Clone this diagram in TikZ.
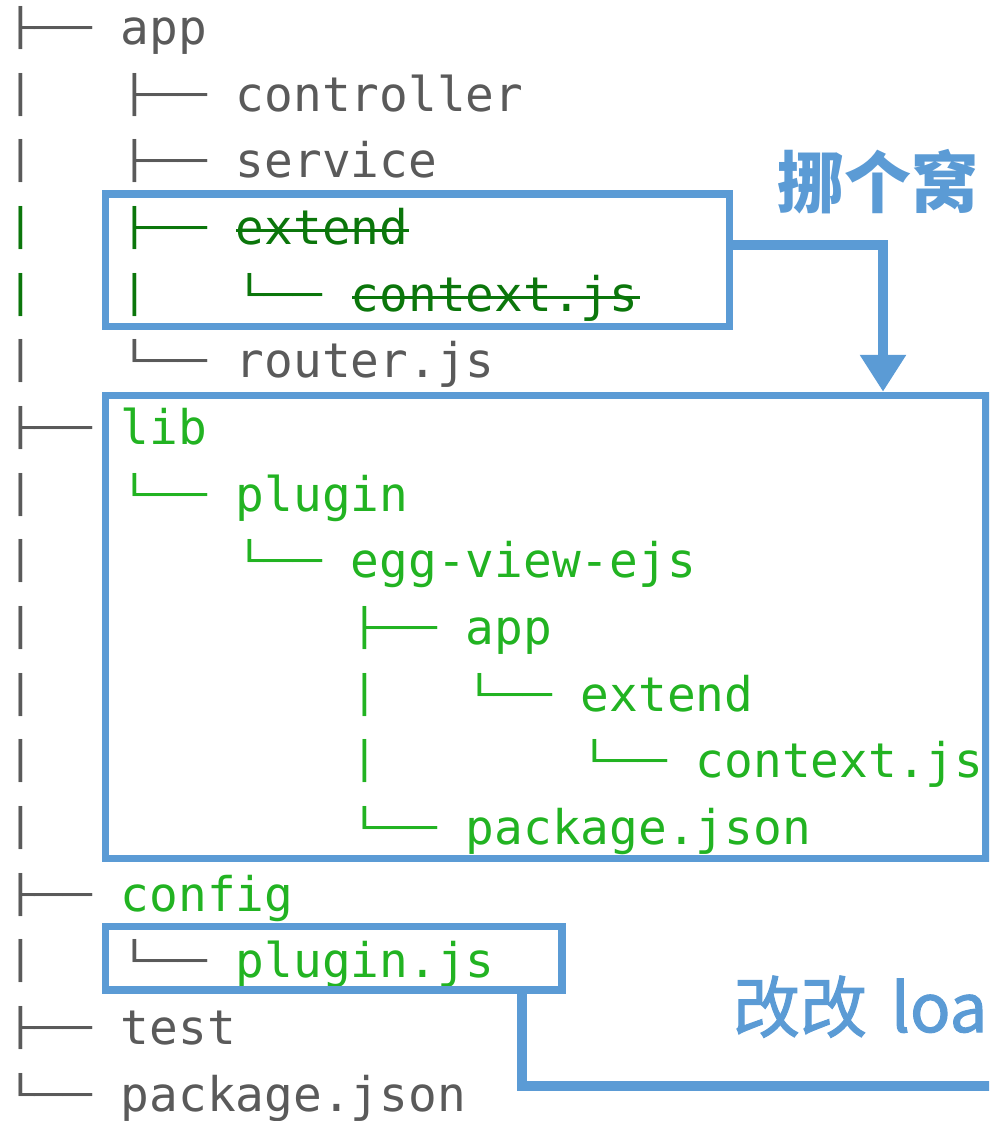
\documentclass[tikz,border=0pt]{standalone}
\usepackage{graphicx}
\usepackage{fontspec}
\setmonofont{DejaVu Sans Mono}
\newfontfamily\cjk{Noto Sans CJK SC}
\newfontfamily\cjkfb[FakeBold=1.6]{Noto Sans CJK SC}
\usetikzlibrary{arrows.meta}
\definecolor{treegrey}{HTML}{5A5A5A}
\definecolor{dkgreen}{HTML}{0B760B}
\definecolor{ltgreen}{HTML}{22B322}
\definecolor{boxblue}{HTML}{5B9BD5}
\newcommand{\G}[1]{{\color{ltgreen}#1}}
\newcommand{\bxc}[1]{\raisebox{17pt}{\scalebox{1}[0.76]{\raisebox{-17pt}{#1}}}}
\newcommand{\tV}{\bxc{│}}
\newcommand{\tT}{\bxc{├──}}
\newcommand{\tE}{\bxc{└──}}
\begin{document}
\begin{tikzpicture}[x=1pt,y=-1pt,
  treeline/.style={anchor=base west, inner sep=0pt, outer sep=0pt,
    font=\ttfamily\fontsize{47.75}{60}\selectfont, text=treegrey},
  hlbox/.style={draw=boxblue, line width=7.5pt, inner sep=0pt},
  conn/.style={draw=boxblue, line width=10.5pt},
  strike/.style={draw=dkgreen, line width=3pt},
  note/.style={inner sep=0pt, outer sep=0pt, text=boxblue}
]
\useasboundingbox (0,0) rectangle (989,1121);
\clip (0,0) rectangle (989,1121);

% tree lines
\node[treeline] (l0)  at (6,44.5)   {\tT~app};
\node[treeline] (l1)  at (6,111.2)  {\tV~~~\tT~controller};
\node[treeline] (l2)  at (6,177.8)  {\tV~~~\tT~service};
\node[treeline, text=dkgreen] (l3)  at (6,244.5)  {\tV~~~\tT~extend};
\node[treeline, text=dkgreen] (l4)  at (6,311.2)  {\tV~~~\tV~~~\tE~context.js};
\node[treeline] (l5)  at (6,377.8)  {\tV~~~\tE~router.js};
\node[treeline] (l6)  at (6,444.5)  {\tT~\G{lib}};
\node[treeline] (l7)  at (6,511.2)  {\tV~~~\G{\tE~plugin}};
\node[treeline] (l8)  at (6,577.8)  {\tV~~~~~~~\G{\tE~egg-view-ejs}};
\node[treeline] (l9)  at (6,644.5)  {\tV~~~~~~~~~~~\G{\tT~app}};
\node[treeline] (l10) at (6,711.2)  {\tV~~~~~~~~~~~\G{\tV~~~\tE~extend}};
\node[treeline] (l11) at (6,777.8)  {\tV~~~~~~~~~~~\G{\tV~~~~~~~\tE~context.js}};
\node[treeline] (l12) at (6,844.5)  {\tV~~~~~~~~~~~\G{\tE~package.json}};
\node[treeline] (l13) at (6,911.2)  {\tT~\G{config}};
\node[treeline] (l14) at (6,977.8)  {\tV~~~\tE~\G{plugin.js}};
\node[treeline] (l15) at (6,1044.5) {\tT~test};
\node[treeline] (l16) at (6,1111.2) {\tE~package.json};

% strike-through
\draw[strike] (236,230) -- (409,230);
\draw[strike] (352,297) -- (640,297);

% boxes
\node[hlbox, minimum width=624pt, minimum height=132.5pt] (box1) at (417.5,260.25) {};
\node[hlbox, minimum width=880.5pt, minimum height=463pt] (box2) at (545.75,627) {};
\node[hlbox, minimum width=456.5pt, minimum height=63.5pt] (box3) at (333.75,958.25) {};

% connectors
\coordinate (bend1) at (883,245);
\draw[conn, -{Triangle[width=44pt,length=37pt]}] (box1.east |- bend1) -- (bend1) -- (box2.north -| bend1);
\coordinate (bend2) at (522,1086);
\coordinate (out2) at (1010,1086);
\draw[conn] (box3.south -| bend2) -- (bend2) -- (out2);

% labels
\node[note, font=\cjk\bfseries\fontsize{67}{67}\selectfont] (lbl1) at (878,181.5) {挪个窝};
\node[note, anchor=base west, font=\cjkfb\fontsize{67}{67}\selectfont] (lbl2) at (733,1032) {改改 {\kern9pt loa}};
\end{tikzpicture}
\end{document}
